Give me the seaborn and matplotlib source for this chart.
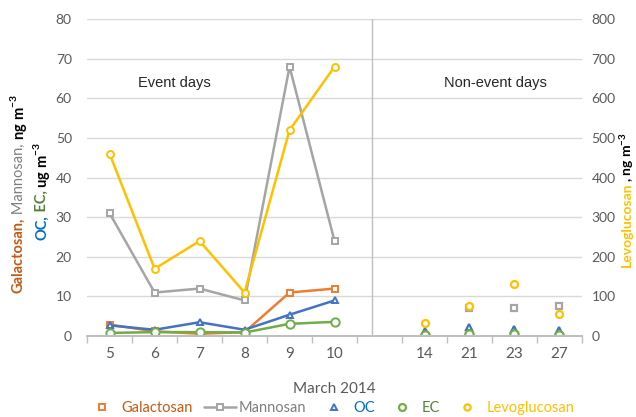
import numpy as np
import matplotlib
matplotlib.use('Agg')
import matplotlib.pyplot as plt
import seaborn as sns
from matplotlib.lines import Line2D

#%% data
days = ['5', '6', '7', '8', '9', '10', '', '14', '21', '23', '27']
event_days = ['5', '6', '7', '8', '9', '10']
nonevent_days = ['14', '21', '23', '27']

# ng m-3 (left axis)
galactosan_event = [2.9, 1.2, 0.6, 1.0, 11.0, 12.0]
mannosan_event = [31, 11, 12, 9, 68, 24]
mannosan_non = [np.nan, 7.2, 7.2, 7.5]
# ug m-3 (left axis)
oc_event = [2.7, 1.6, 3.5, 1.6, 5.4, 9.0]
ec_event = [0.8, 1.0, 1.0, 0.9, 3.1, 3.6]
oc_non = [1.3, 2.2, 1.8, 1.5]
ec_non = [0.4, 0.6, 0.5, 0.4]
# ng m-3 (right axis)
levo_event = [460, 170, 240, 110, 520, 680]
levo_non = [32, 76, 131, 56]

#%% style
sns.set_theme(style='white')
plt.rcParams['font.family'] = ['Lato', 'DejaVu Sans']
plt.rcParams['mathtext.fontset'] = 'custom'
plt.rcParams['mathtext.rm'] = 'Lato'
plt.rcParams['mathtext.bf'] = 'Lato:bold'

c_gal = '#ED7D31'
c_man = '#A5A5A5'
c_oc = '#4472C4'
c_ec = '#70AD47'
c_levo = '#FFC000'
tick_col = '#595959'

x_event = [days.index(d) for d in event_days]
x_non = [days.index(d) for d in nonevent_days]

fig = plt.figure(figsize=(6.36, 4.17), dpi=100)
ax = fig.add_axes([0.137, 0.194, 0.778, 0.760])
ax2 = ax.twinx()


def line(axis, y, color, marker, ms=4.5):
    sns.lineplot(x=x_event, y=y, ax=axis, color=color, linewidth=1.8,
                 marker=marker, markersize=ms, markerfacecolor='white',
                 markeredgecolor=color, markeredgewidth=1.4)


def dots(axis, y, color, marker, ms=4.5):
    axis.plot(x_non, y, linestyle='', marker=marker, markersize=ms,
              markerfacecolor='white', markeredgecolor=color,
              markeredgewidth=1.6)


line(ax, mannosan_event, c_man, 's', 4)
line(ax, galactosan_event, c_gal, 's', 4)
line(ax, oc_event, c_oc, '^', 5)
line(ax, ec_event, c_ec, 'o', 6)
dots(ax, mannosan_non, c_man, 's', 4)
dots(ax, oc_non, c_oc, '^', 5)
dots(ax, ec_non, c_ec, 'o', 6)
line(ax2, levo_event, c_levo, 'o', 5)
dots(ax2, levo_non, c_levo, 'o', 5)

# axes
ax.set_xlim(-0.5, len(days) - 0.5)
ax.set_ylim(0, 80)
ax2.set_ylim(0, 800)
ax.set_yticks(range(0, 81, 10))
ax2.set_yticks(range(0, 801, 100))
ax.set_xticks(range(len(days)))
ax.set_xticklabels(days)
ax.set_xticks(np.arange(-0.5, len(days), 1), minor=True)
ax.yaxis.grid(True, color='#D9D9D9', linewidth=1)
ax.set_axisbelow(True)
for a in (ax, ax2):
    for s in ('top', 'left', 'right'):
        a.spines[s].set_visible(False)
    a.spines['bottom'].set_color('#BFBFBF')
    a.tick_params(axis='y', length=0, labelsize=10, labelcolor=tick_col)
ax.tick_params(axis='y', pad=11)
ax2.tick_params(axis='y', pad=7)
ax.tick_params(axis='x', which='major', length=0, labelsize=11,
               labelcolor=tick_col, pad=8)
ax.tick_params(axis='x', which='minor', length=5, color='#BFBFBF',
               bottom=True)
ax.set_xlabel('March 2014', fontsize=11, color=tick_col, labelpad=15)
ax.set_ylabel('')
ax2.set_ylabel('')

# divider and labels
ax.axvline(5.83, color='#BFBFBF', linewidth=1)
ax.text(1.45, 64, 'Event days', fontsize=10.5, family='Liberation Sans',
        ha='center', va='center', color='#262626')
ax.text(8.57, 64, 'Non-event days', fontsize=10.5, family='Liberation Sans',
        ha='center', va='center', color='#262626')


def stacked_label(x, y, pieces, size=10):
    # rotated multi-coloured label, built bottom to top
    s, c, w = pieces[0]
    prev = fig.text(x, y, s, color=c, fontweight=w, rotation=90,
                    fontsize=size, ha='center', va='bottom')
    for s, c, w in pieces[1:]:
        prev = ax.annotate(s, xy=(0.5, 1), xycoords=prev, color=c,
                           fontweight=w, rotation=90, fontsize=size,
                           ha='center', va='bottom', annotation_clip=False)


stacked_label(0.029, 0.297, [('Galactosan,', '#C55A11', 'bold'),
                             (' Mannosan,', '#7F7F7F', 'normal'),
                             (r' ng m$^{\mathbf{-3}}$', 'black', 'bold')],
              10.5)
stacked_label(0.066, 0.424, [('OC,', '#0070C0', 'bold'),
                             (' EC,', '#548235', 'bold'),
                             (r' ug m$^{\mathbf{-3}}$', 'black', 'bold')],
              10.5)
stacked_label(0.985, 0.36, [('Levoglucosan', c_levo, 'bold'),
                            (r', ng m$^{\mathbf{-3}}$', 'black', 'bold')])

# legend
handles = [
    Line2D([], [], linestyle='', marker='s', markersize=4, color=c_gal,
           markerfacecolor='white', markeredgewidth=1.4),
    Line2D([], [], linewidth=1.8, marker='s', markersize=4, color=c_man,
           markerfacecolor='white', markeredgewidth=1.4),
    Line2D([], [], linestyle='', marker='^', markersize=5, color=c_oc,
           markerfacecolor='white', markeredgewidth=1.4),
    Line2D([], [], linestyle='', marker='o', markersize=5, color=c_ec,
           markerfacecolor='white', markeredgewidth=1.6),
    Line2D([], [], linestyle='', marker='o', markersize=4.5, color=c_levo,
           markerfacecolor='white', markeredgewidth=1.6),
]
names = ['Galactosan', 'Mannosan', 'OC', 'EC', 'Levoglucosan']
leg = fig.legend(handles, names, loc='center', bbox_to_anchor=(0.519, 0.022),
                 ncol=5, frameon=False, fontsize=10.5, handlelength=2.2,
                 handletextpad=0.2, columnspacing=0.8)
for t, c in zip(leg.get_texts(), ['#C55A11', '#7F7F7F', '#0070C0',
                                  '#548235', c_levo]):
    t.set_color(c)

fig.savefig('out.png', dpi=100)
